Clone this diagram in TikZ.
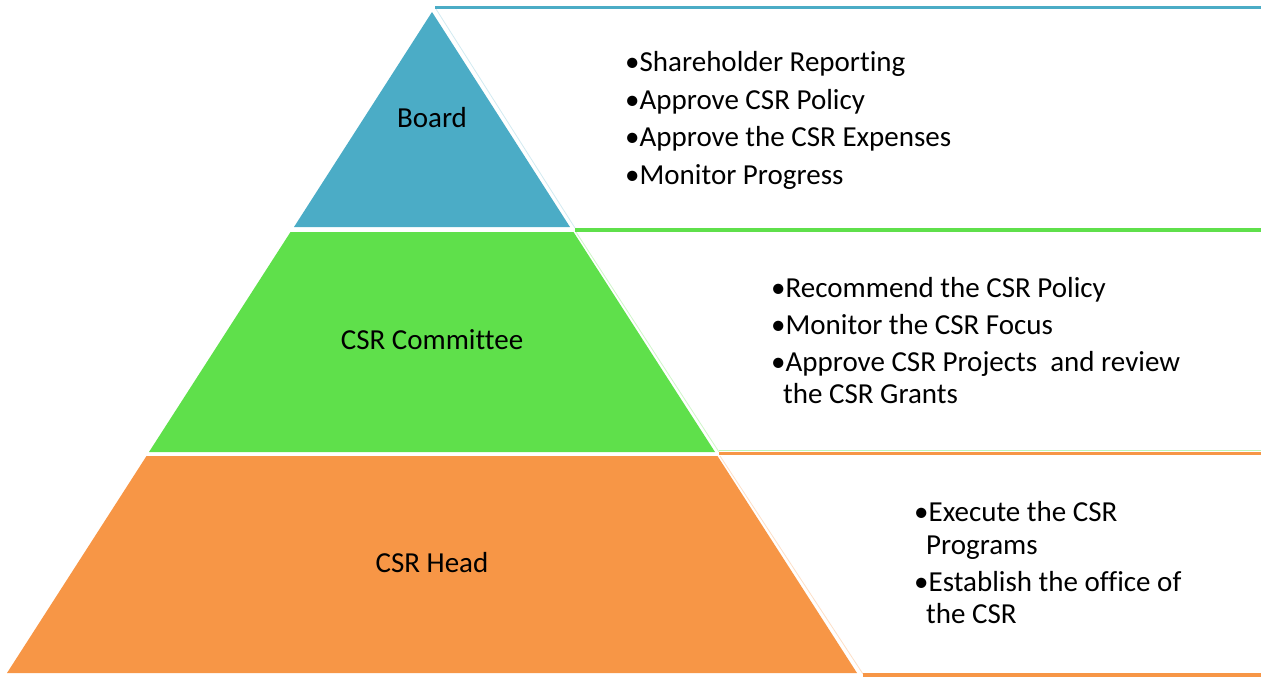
\documentclass[tikz,border=0pt]{standalone}
\usepackage{fontspec}
\setmainfont[Ligatures={NoCommon}]{Carlito}
\usetikzlibrary{positioning}
\definecolor{boardblue}{HTML}{4BACC6}
\definecolor{committeegreen}{HTML}{5FE04B}
\definecolor{headorange}{HTML}{F79646}

\begin{document}
\begin{tikzpicture}[x=1pt,y=-1pt,
  rule/.style={line width=3.6pt},
  frame/.style={line width=0.8pt},
  lbl/.style={font=\fontsize{29}{35}\selectfont, inner sep=0pt, anchor=base},
  item/.style={font=\fontsize{29}{35}\selectfont, inner sep=0pt, anchor=base west}]
  \useasboundingbox (0,0) rectangle (1261,677);

  % Piramide
  \fill[boardblue] (432,12) -- (570,227) -- (294,227) -- cycle;
  \fill[committeegreen] (290.5,232) -- (573.5,232) -- (715,452) -- (149,452) -- cycle;
  \fill[headorange] (146.5,456) -- (717.5,456) -- (857,673) -- (7,673) -- cycle;

  % Cajas de texto (bordes claros)
  \draw[frame, boardblue!25] (436,9) -- (575,228);
  \draw[frame, committeegreen!30] (576,232) -- (719,452);
  \draw[frame, committeegreen!40] (719,450) -- (1261,450);
  \draw[frame, headorange!30] (720,456) -- (863,674);

  % Lineas superiores
  \draw[rule, boardblue] (435,7.5) -- (1261,7.5);
  \draw[rule, committeegreen] (575,230) -- (1261,230);
  \draw[rule, headorange] (719,453.5) -- (1261,453.5);
  \draw[rule, headorange] (863,675.2) -- (1261,675.2);

  % Niveles
  \node[lbl] (board) at (432,127) {Board};
  \node[lbl] (committee) at (432,349) {CSR Committee};
  \node[lbl] (head) at (432,572) {CSR Head};

  % Funciones del Board
  \node[item] (b1) at (625,71.5) {•Shareholder Reporting};
  \node[item] (b2) at (625,109) {•Approve CSR Policy};
  \node[item] (b3) at (625,146.5) {•Approve the CSR Expenses};
  \node[item] (b4) at (625,184) {•Monitor Progress};

  % Funciones del CSR Committee
  \node[item] (c1) at (771,297) {•Recommend the CSR Policy};
  \node[item] (c2) at (771,334) {•Monitor the CSR Focus};
  \node[item] (c3) at (771,371) {•Approve CSR Projects\ \ and review};
  \node[item] (c4) at (783,403) {the CSR Grants};

  % Funciones del CSR Head
  \node[item] (h1) at (914,521.5) {•Execute the CSR};
  \node[item] (h2) at (926,554) {Programs};
  \node[item] (h3) at (914,591) {•Establish the office of};
  \node[item] (h4) at (926,623) {the CSR};
\end{tikzpicture}
\end{document}
